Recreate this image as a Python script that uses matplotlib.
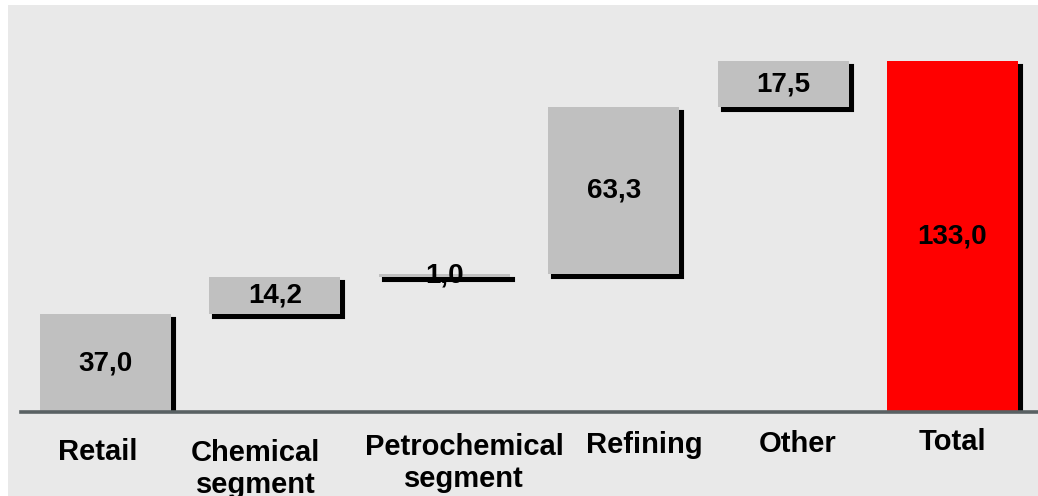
import matplotlib
matplotlib.use("Agg")
import matplotlib.pyplot as plt
from matplotlib.patches import Rectangle
from matplotlib.transforms import ScaledTranslation

categories = ["Retail", "Chemical\nsegment", "Petrochemical\nsegment", "Refining", "Other", "Total"]
values = [37.0, 14.2, 1.0, 63.3, 17.5, 133.0]
value_labels = ["37,0", "14,2", "1,0", "63,3", "17,5", "133,0"]

# running totals give the floating bottoms of the waterfall steps
bottoms = []
running = 0.0
for v in values[:-1]:
    bottoms.append(running)
    running += v
bottoms.append(0.0)

colors = ["#c0c0c0"] * (len(values) - 1) + ["#ff0000"]

# per-label nudges in pixels (dx, dy of last-line baseline below axis)
label_dx = [-8, -19, 20, 31, 15, 0]
label_dy = [-48, -81, -75, -41, -40, -38]

fig = plt.figure(figsize=(10.38, 4.96), dpi=100)
fig.patch.set_facecolor("white")
fig.patches.append(Rectangle((8 / 1038, 0), 1 - 8 / 1038, 491 / 496,
                             transform=fig.transFigure, facecolor="#e9e9e9",
                             edgecolor="none", zorder=-10))

ax = fig.add_axes([20.8 / 1038, 84 / 496, 1016.4 / 1038, 407 / 496])
ax.set_facecolor("none")
ax.set_xlim(-0.5, len(values) - 0.5)
ax.set_ylim(0, 133.0 * 407 / 351)
ax.axis("off")

x = list(range(len(values)))
width = 0.773

# drop shadow: same bars shifted right/down, clipped at the axis line
shadow = ax.transData + ScaledTranslation(4 / 100, -4 / 100, fig.dpi_scale_trans)
ax.bar(x, values, width=width, bottom=bottoms, color="black",
       edgecolor="black", linewidth=1.5, transform=shadow, zorder=1)
ax.bar(x, values, width=width, bottom=bottoms, color=colors, zorder=2)

ax.axhline(0, xmin=0, xmax=1.05, color="#596163", lw=2.6, clip_on=False, zorder=3)

family = ["Liberation Sans", "DejaVu Sans"]

for i, (b, v, t) in enumerate(zip(bottoms, values, value_labels)):
    ax.text(i, b + v / 2, t, ha="center", va="center", color="black",
            zorder=4, family=family, weight="bold", size=20)

for i, name in enumerate(categories):
    tr = ax.transData + ScaledTranslation(label_dx[i] / 100, label_dy[i] / 100,
                                          fig.dpi_scale_trans)
    ax.text(i, 0, name, ha="center", va="baseline", transform=tr,
            linespacing=1.2, clip_on=False, family=family, weight="bold", size=21)

fig.savefig("out.png", dpi=100)
